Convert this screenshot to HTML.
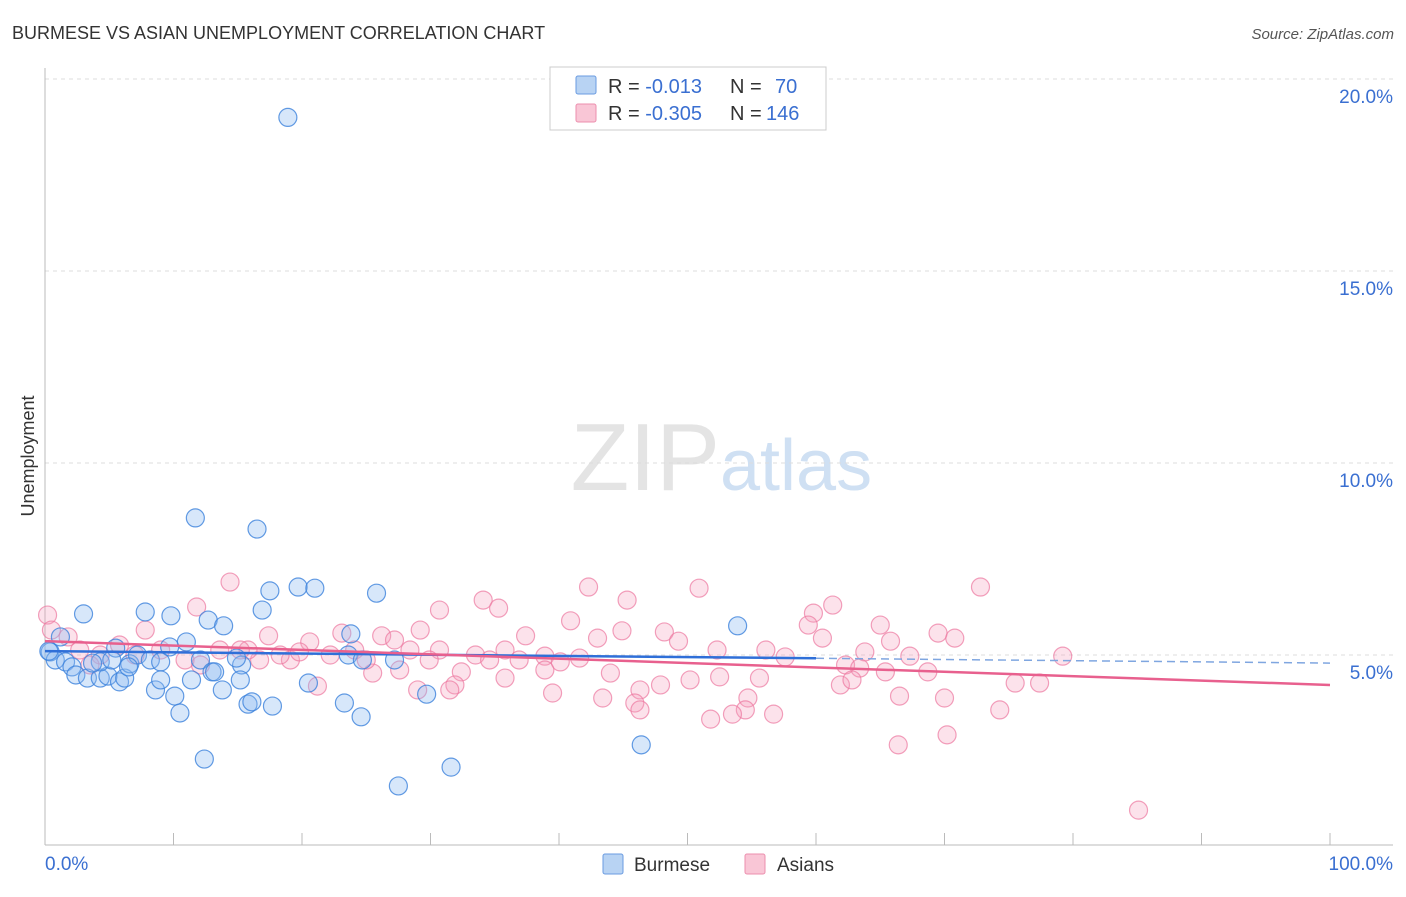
<!DOCTYPE html>
<html><head><meta charset="utf-8"><style>
body{margin:0;background:#fff;font-family:"Liberation Sans",sans-serif}
svg text{font-family:"Liberation Sans",sans-serif}
</style></head><body>
<svg id="chart" width="1406" height="892" viewBox="0 0 1406 892">
<text x="12" y="39" font-size="18" fill="#333">BURMESE VS ASIAN UNEMPLOYMENT CORRELATION CHART</text>
<text x="1394" y="39" font-size="15" fill="#555" font-style="italic" text-anchor="end">Source: ZipAtlas.com</text>
<text x="720" y="490" font-size="96" fill="#e4e4e4" text-anchor="end" font-family="Liberation Serif">ZIP</text>
<text x="720" y="490" font-size="72" fill="#cfe0f3">atlas</text>
<text transform="translate(34,456) rotate(-90)" font-size="18" fill="#333" text-anchor="middle">Unemployment</text>
<g id="grid"></g><g id="axes"></g><g id="pts"></g><g id="trends"></g>
<g>
<rect x="550" y="67" width="276" height="63" fill="#fff" stroke="#ccc"/>
<rect x="576" y="76" width="20" height="18" fill="#b8d3f3" stroke="#6a9be0" rx="2"/>
<rect x="576" y="104" width="20" height="18" fill="#f9c6d6" stroke="#ec8fae" rx="2"/>
<text x="608" y="93" font-size="20" fill="#333">R = <tspan fill="#3a6fd1">-0.013</tspan><tspan x="730">N = </tspan><tspan x="775" fill="#3a6fd1">70</tspan></text>
<text x="608" y="120" font-size="20" fill="#333">R = <tspan fill="#3a6fd1">-0.305</tspan><tspan x="730">N = </tspan><tspan x="766" fill="#3a6fd1">146</tspan></text>
</g>
<g>
<rect x="603" y="854" width="20" height="20" fill="#b8d3f3" stroke="#6a9be0" rx="2"/>
<text x="634" y="871" font-size="19" fill="#333">Burmese</text>
<rect x="745" y="854" width="20" height="20" fill="#f9c6d6" stroke="#ec8fae" rx="2"/>
<text x="777" y="871" font-size="19" fill="#333">Asians</text>
</g>
</svg>
<script>
const yTicks=[5,10,15,20];
const burX=[18.9,11.7,16.5,19.7,21.0,17.5,25.8,3.0,7.8,9.8,16.9,12.7,13.9,53.9,11.0,1.2,5.5,9.7,23.8,0.4,0.8,1.6,2.1,2.4,3.3,4.3,4.9,5.8,6.2,6.6,4.3,5.2,7.2,8.2,9.0,8.6,9.0,10.1,10.5,11.4,12.1,13.0,13.2,13.8,15.3,15.2,15.8,16.1,17.7,20.5,23.3,23.6,24.6,24.7,27.2,29.7,27.5,31.6,12.4,46.4,14.9,6.5,3.7,0.3];
const burY=[19.0,8.57,8.28,6.77,6.74,6.67,6.61,6.07,6.12,6.02,6.17,5.91,5.76,5.76,5.34,5.47,5.18,5.21,5.55,5.08,4.87,4.82,4.69,4.48,4.40,4.40,4.45,4.30,4.40,4.77,4.82,4.87,5.0,4.87,4.82,4.09,4.35,3.93,3.49,4.35,4.87,4.56,4.56,4.09,4.74,4.35,3.72,3.78,3.67,4.27,3.75,5.0,3.39,4.87,4.87,3.98,1.59,2.08,2.29,2.66,4.92,4.69,4.79,5.1];
const asiX=[14.4,42.3,50.9,72.8,34.1,45.3,30.7,35.3,61.3,59.8,11.8,7.8,40.9,59.4,65.0,29.2,17.4,23.1,26.2,37.4,43.0,44.9,48.2,49.3,60.5,65.8,69.5,70.8,0.2,1.8,20.6,30.7,33.5,35.8,38.9,41.6,52.3,56.1,57.6,63.8,67.3,79.2,62.3,63.4,68.7,65.4,55.6,52.5,50.2,47.9,46.3,44.0,38.9,35.8,32.4,31.9,31.5,29.0,25.5,27.6,21.2,19.1,16.7,39.5,43.4,45.9,46.3,54.7,54.5,53.5,51.8,56.7,61.9,62.8,66.5,70.0,75.5,77.4,74.3,70.2,66.4,85.1,9.0,10.9,12.1,13.6,15.8,18.3,22.2,24.1,5.8,4.3,2.7,3.5,7.0,15.2,19.8,27.2,28.4,29.9,36.9,40.1,34.6,25.0,0.5];
const asiY=[6.9,6.77,6.74,6.77,6.43,6.43,6.17,6.22,6.30,6.09,6.25,5.65,5.89,5.78,5.78,5.65,5.50,5.57,5.50,5.50,5.44,5.63,5.60,5.36,5.44,5.36,5.57,5.44,6.04,5.47,5.34,5.13,5.0,5.13,4.97,4.92,5.13,5.13,4.95,5.08,4.97,4.97,4.74,4.66,4.56,4.56,4.40,4.43,4.35,4.22,4.09,4.53,4.61,4.40,4.56,4.22,4.09,4.09,4.53,4.61,4.19,4.87,4.87,4.01,3.88,3.75,3.57,3.88,3.57,3.46,3.33,3.46,4.22,4.35,3.93,3.88,4.27,4.27,3.57,2.92,2.66,0.96,5.13,4.87,4.74,5.13,5.13,5.0,5.0,5.13,5.26,5.0,5.13,4.74,5.0,5.13,5.08,5.39,5.13,4.87,4.87,4.82,4.87,4.87,5.65];
const burTrend=[5.10,4.79];
const asiTrend=[5.36,4.22];
const NS="http://www.w3.org/2000/svg";
const X=v=>45+v*12.85, Y=v=>847-v*38.4;
function mk(tag,attrs,parent){const e=document.createElementNS(NS,tag);for(const k in attrs)e.setAttribute(k,attrs[k]);document.getElementById(parent).appendChild(e);return e;}
yTicks.forEach(t=>{
 const l=mk('line',{x1:45,x2:1393,y1:Y(t),y2:Y(t),stroke:'#ddd','stroke-dasharray':'4,4'},'grid');
 
 
 const tx=mk('text',{x:1393,y:Y(t)+24,'font-size':19,fill:'#3a6fd1','text-anchor':'end'},'grid');
 tx.textContent=t.toFixed(1)+'%';
 
 
});
mk('line',{x1:45,x2:45,y1:68,y2:845,stroke:'#bbb'},'axes');
mk('line',{x1:45,x2:1393,y1:845,y2:845,stroke:'#bbb'},'axes');
for(let i=0;i<=10;i++){const t=mk('line',{x1:X(i*10),x2:X(i*10),y1:833,y2:845,stroke:'#bbb'},'axes');
 
 }
let a=mk('text',{x:45,y:870,'font-size':19,fill:'#3a6fd1'},'axes');a.textContent='0.0%';


a=mk('text',{x:1393,y:870,'font-size':19,fill:'#3a6fd1','text-anchor':'end'},'axes');a.textContent='100.0%';


asiX.forEach((x,i)=>{const c=mk('circle',{cx:X(x),cy:Y(asiY[i]),r:9,fill:'rgba(246,160,188,0.3)',stroke:'rgba(236,120,160,0.7)','stroke-width':1.2},'pts');
 
 });
burX.forEach((x,i)=>{const c=mk('circle',{cx:X(x),cy:Y(burY[i]),r:9,fill:'rgba(140,185,240,0.35)',stroke:'rgba(60,130,220,0.8)','stroke-width':1.2},'pts');
 
 });
const bAt=v=>burTrend[0]+(burTrend[1]-burTrend[0])*v/100;
let t1=mk('line',{x1:X(0),y1:Y(bAt(0)),x2:X(60),y2:Y(bAt(60)),stroke:'#2f6fd8','stroke-width':2.5},'trends');


t1=mk('line',{x1:X(60),y1:Y(bAt(60)),x2:X(100),y2:Y(bAt(100)),stroke:'#7fa6e0','stroke-width':1.5,'stroke-dasharray':'8,5'},'trends');


t1=mk('line',{x1:X(0),y1:Y(asiTrend[0]),x2:X(100),y2:Y(asiTrend[1]),stroke:'#e8608e','stroke-width':2.5},'trends');


</script>
</body></html>
